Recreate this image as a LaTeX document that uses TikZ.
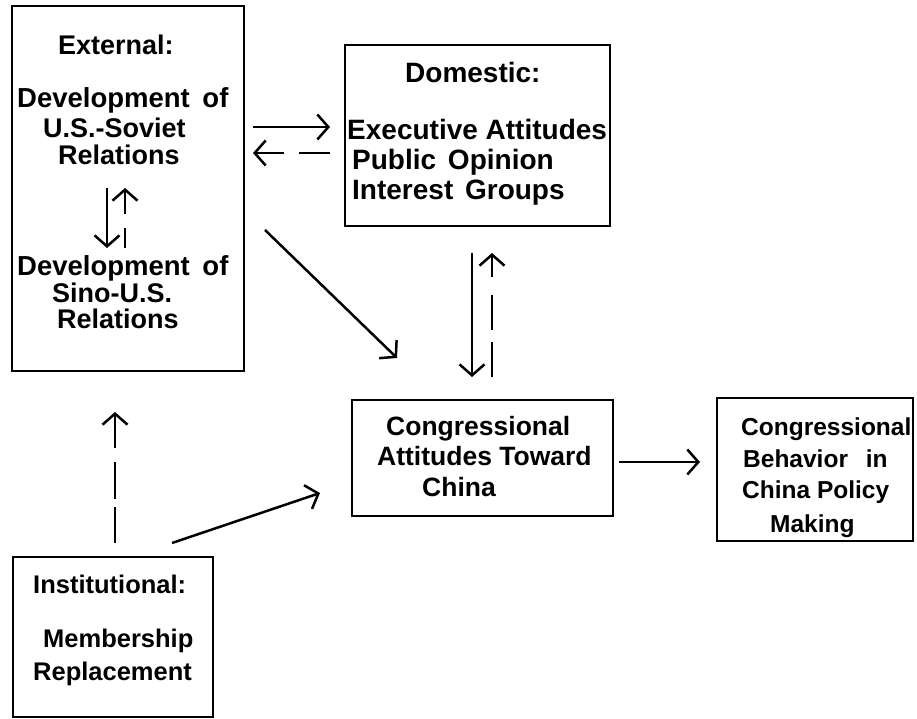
\documentclass[tikz,border=0pt]{standalone}
\usepackage{fontspec}
\setmainfont{Liberation Sans}
\usetikzlibrary{arrows.meta}
\begin{document}
\begin{tikzpicture}[x=1pt,y=-1pt,
  box/.style={draw, line width=2.5pt, inner sep=0pt},
  lbl/.style={anchor=base west, inner sep=0pt, font=\fontsize{#1}{30}\selectfont\bfseries},
  lbl/.default=26,
  arr/.style={line width=2.5pt, -{Straight Barb[length=11pt,width=25pt,line width=2.5pt]}},
]
\useasboundingbox (0,0) rectangle (917,719);
\fill[white] (0,0) rectangle (917,719);

% boxes
\node[box, minimum width=232pt, minimum height=365pt] (ext) at (128,188.5) {};
\node[box, minimum width=265pt, minimum height=181pt] (dom) at (477.5,135.5) {};
\node[box, minimum width=261pt, minimum height=116pt] (ca) at (482.5,458) {};
\node[box, minimum width=196pt, minimum height=143pt] (cb) at (815,469.5) {};
\node[box, minimum width=200pt, minimum height=160pt] (inst) at (113,637) {};

% texts: external
\node[lbl=27] (t1) at (58,55) {External:};
\node[lbl=27.5] (t2) at (17,108) {Development\hspace{5pt} of};
\node[lbl=27] (t3) at (43,138) {U.S.-Soviet};
\node[lbl=27] (t4) at (58,165) {Relations};
\node[lbl=27.5] (t5) at (17,275) {Development\hspace{5pt} of};
\node[lbl=27] (t6) at (52,302) {Sino-U.S.};
\node[lbl=27] (t7) at (57,328) {Relations};
% domestic
\node[lbl=28] (d1) at (405,83) {Domestic:};
\node[lbl=28] (d2) at (347,140) {Executive Attitudes};
\node[lbl=28] (d3) at (352,170) {Public\hspace{4pt} Opinion};
\node[lbl=28] (d4) at (352,200) {Interest\hspace{4pt} Groups};
% congressional attitudes
\node[lbl=26.5] (c1) at (386,435) {Congressional};
\node[lbl=26.5] (c2) at (377,465) {Attitudes Toward};
\node[lbl=26.5] (c3) at (422,496) {China};
% congressional behavior
\node[lbl=24.5] (b1) at (741,435) {Congressional};
\node[lbl=24.5] (b2) at (743,467) {Behavior\hspace{11pt} in};
\node[lbl=24.5] (b3) at (742,498) {China Policy};
\node[lbl=24.5] (b4) at (770,532) {Making};
% institutional
\node[lbl=25.5] (i1) at (33,593) {Institutional:};
\node[lbl=25.5] (i2) at (43,647) {Membership};
\node[lbl=25.5] (i3) at (33,680) {Replacement};

% connector end points
\coordinate (p1a) at (253,127); \coordinate (p1b) at (330,127);
\coordinate (p2a) at (330,153); \coordinate (p2b) at (253,153);
\coordinate (p3a) at (107,188); \coordinate (p3b) at (107,248);
\coordinate (p4a) at (125,248); \coordinate (p4b) at (125,188);
\coordinate (p5a) at (265,230); \coordinate (p5b) at (397,358);
\coordinate (p6a) at (472,253); \coordinate (p6b) at (472,377);
\coordinate (p7a) at (492,377); \coordinate (p7b) at (492,253);
\coordinate (p8a) at (619,462); \coordinate (p8b) at (700,462);
\coordinate (p9a) at (115,543); \coordinate (p9b) at (115,412);
\coordinate (p10a) at (172,543); \coordinate (p10b) at (320,493);

\draw[arr] (p1a) -- (p1b);
\draw[arr, dash pattern=on 31pt off 15pt on 60pt] (p2a) -- (p2b);
\draw[arr] (p3a) -- (p3b);
\draw[arr, dash pattern=on 20pt off 14pt on 60pt] (p4a) -- (p4b);
\draw[arr] (p5a) -- (p5b);
\draw[arr] (p6a) -- (p6b);
\draw[arr, dash pattern=on 35pt off 12pt on 35pt off 18pt on 60pt] (p7a) -- (p7b);
\draw[arr] (p8a) -- (p8b);
\draw[arr, dash pattern=on 36pt off 8pt on 37pt off 14pt on 60pt] (p9a) -- (p9b);
\draw[arr] (p10a) -- (p10b);
\end{tikzpicture}
\end{document}
